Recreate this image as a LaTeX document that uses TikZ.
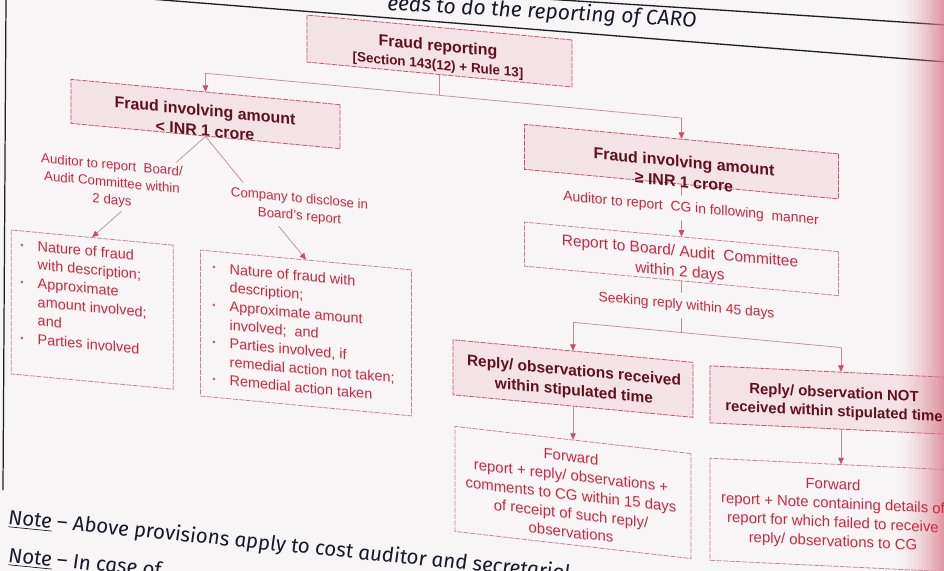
\documentclass[tikz,border=0pt]{standalone}
\usepackage{fontspec}
\setmainfont{Liberation Sans}
\newfontfamily\handfont{Fira Sans}
\usetikzlibrary{arrows.meta}

\definecolor{pagebg}{HTML}{F7F5F5}
\definecolor{headfill}{HTML}{F3E2E6}
\definecolor{headline}{HTML}{C6546C}
\definecolor{boxline}{HTML}{C98494}
\definecolor{connline}{HTML}{BF8C97}
\definecolor{tipred}{HTML}{D2486A}
\definecolor{darkred}{HTML}{62101E}
\definecolor{textred}{HTML}{D02540}
\definecolor{ink}{HTML}{18182A}
\definecolor{edgepink}{HTML}{D97F90}
\definecolor{rulecol}{HTML}{1E1E24}

% font sizes (1 unit of the picture = 0.02cm)
\newcommand\fHead{\fontsize{9.07pt}{11.4pt}\selectfont\bfseries}
\newcommand\fTop{\fontsize{9.07pt}{10.4pt}\selectfont\bfseries}
\newcommand\fSub{\fontsize{7.65pt}{10.4pt}\selectfont\bfseries}
\newcommand\fBody{\fontsize{8.8pt}{11.5pt}\selectfont}
\newcommand\fBold{\fontsize{8.8pt}{11.3pt}\selectfont\bfseries}
\newcommand\fBoldS{\fontsize{8.5pt}{10.6pt}\selectfont\bfseries}
\newcommand\fFwd{\fontsize{8.5pt}{10.8pt}\selectfont}
\newcommand\fList{\fontsize{8.2pt}{10.6pt}\selectfont}
\newcommand\fLbl{\fontsize{7.55pt}{9.9pt}\selectfont}
\newcommand\fLblB{\fontsize{7.9pt}{9.9pt}\selectfont}
\newcommand\fHandTop{\fontsize{12pt}{13pt}\selectfont\handfont\itshape}
\newcommand\fHand{\fontsize{11.7pt}{13pt}\selectfont\handfont\itshape}

% list helpers
\newcommand\bul{\makebox[9.9pt][l]{\raisebox{0.9pt}{\fontsize{5.5pt}{5.5pt}\selectfont\textcolor{textred!75}{•}}}}
\newcommand\cont{\hspace*{9.9pt}}

\begin{document}
\begin{tikzpicture}[x=0.02cm,y=-0.02cm,
  headbox/.style={draw=headline, fill=headfill, line width=0.45pt, dash pattern=on 3pt off 0.7pt, inner sep=0pt},
  plainbox/.style={draw=boxline, line width=0.45pt, dash pattern=on 3pt off 0.7pt, inner sep=0pt},
  headtext/.style={text=darkred, align=center, inner sep=0pt},
  bodytext/.style={text=textred, align=center, inner sep=0pt},
  listtext/.style={text=textred, align=left, inner sep=0pt, anchor=west, font=\fList},
  steplabel/.style={text=textred, align=center, fill=pagebg, inner xsep=1.5pt, inner ysep=2pt},
  conn/.style={draw=connline, line width=0.4pt},
  arr/.style={conn, -{Triangle[length=3.6pt,width=3.2pt,color=tipred]}},
  shearmain/.style={cm={1,-0.094,0,1,(0,0)}, transform shape},
  shearlow/.style={cm={1,-0.115,0,1,(0,0)}, transform shape},
  shearedge/.style={cm={1,-0.048,0,1,(0,0)}, transform shape},
  hand/.style={text=ink, inner sep=0pt, anchor=base west}
]
\useasboundingbox (0,0) rectangle (944,571);
\clip (0,0) rectangle (944,571);
\fill[pagebg] (0,0) rectangle (944,571);

% table rules of the page
\draw[rulecol, line width=0.75pt] plot[smooth] coordinates {(150,-1) (308,11.5) (580,33) (946,62)};
\draw[rulecol, line width=0.75pt] plot[smooth] coordinates {(545,-1) (750,12) (946,25)};
\draw[rulecol, line width=0.7pt] (6,-1) -- (3,490);

\node[hand, font=\fHandTop, yslant=-0.055] (topnote) at (387,10) {eeds to do the reporting of CARO};

% ---------- boxes of the chart ----------
\begin{scope}[shearmain]
  \node[headbox, minimum width=5.30cm, minimum height=0.94cm] (bA) at (439.5,9.7) {};
  \node[headbox, minimum width=5.38cm, minimum height=0.88cm] (bB) at (205.5,94.7) {};
  \node[headbox, minimum width=6.28cm, minimum height=0.90cm] (bC) at (681.5,97.6) {};
  \node[plainbox, minimum width=6.28cm, minimum height=0.88cm] (bD) at (681.5,194.8) {};
  \node[headbox, minimum width=4.80cm, minimum height=1.10cm] (bE) at (573,324.7) {};
  \node[plainbox, minimum width=3.24cm, minimum height=2.88cm] (bI) at (92.3,300.9) {};
  \node[plainbox, minimum width=4.22cm, minimum height=2.92cm] (bJ) at (306,304.2) {};

  \coordinate (jA) at (439.5,54);
  \coordinate (kB) at (205.5,54);
  \coordinate (kC) at (681.5,54);
  \coordinate (jD) at (681.5,268.5);
  \coordinate (kE) at (573,268.5);
  \coordinate (kF) at (841,268.5);
\end{scope}

\begin{scope}[shearlow]
  \node[plainbox, minimum width=4.72cm, minimum height=2.10cm] (bG) at (573,426.6) {};
\end{scope}

\begin{scope}[shearedge]
  \node[headbox, minimum width=5.24cm, minimum height=1.14cm] (bF) at (841,360.3) {};
  \node[plainbox, minimum width=5.24cm, minimum height=2.04cm] (bH) at (841,475.2) {};
\end{scope}

% pink cast along the right edge of the page
\foreach \i in {0,...,24} {
  \pgfmathsetmacro{\op}{0.82*(\i/24)^1.6}
  \fill[edgepink, fill opacity=\op] ({895+2*\i},-1) rectangle ({897.2+2*\i},572);
}

% connectors
\draw[conn] (bA.south) -- (jA);
\draw[conn] (kB) -- (kC);
\draw[arr] (kB) -- (bB.north);
\draw[arr] (kC) -- (bC.north);
\draw[arr] (bB.south) -- (bI.north);
\draw[arr] (bB.south) -- (bJ.north);
\draw[arr] (bC.south) -- (bD.north);
\draw[conn] (bD.south) -- (jD);
\draw[conn] (kE) -- (kF);
\draw[arr] (kE) -- (bE.north);
\draw[arr] (kF) -- (bF.north);
\draw[arr] (bE.south) -- (bG.north);
\draw[arr] (bF.south) -- (bH.north);

% texts
\begin{scope}[shearmain]
  \node[headtext, font=\fTop] (tA) at (438,14.8) {Fraud reporting\\{\fSub [Section 143(12) + Rule 13]}};
  \node[headtext, font=\fHead] (tB) at (205,101.2) {Fraud involving amount\\< INR 1 crore};
  \node[headtext, font=\fHead] (tC) at (684,107.5) {Fraud involving amount\\≥ INR 1 crore};
  \node[bodytext, font=\fBody] (tD) at (680,198.5) {Report to Board/ Audit\ \ Committee\\within 2 days};
  \node[headtext, font=\fBold] (tE) at (574,327.8) {Reply/ observations received\\within stipulated time};

  \node[steplabel, font=\fLblB, inner ysep=3.4pt] (lCG) at (691,144) {Auditor to report\ \ CG in following\ \ manner};
  \node[steplabel, font=\fLblB, inner ysep=3.6pt] (l45) at (686.5,241.5) {Seeking reply within 45 days};
  \node[steplabel, font=\fLbl] (lI) at (112,172.9) {Auditor to report\ \ Board/\\Audit Committee within\\2 days};
  \node[steplabel, font=\fLbl, inner ysep=3pt] (lJ) at (299.5,179.8) {Company to disclose in\\Board’s report};

  \node[listtext] (listI) at (20,289.2) {\bul Nature of fraud\\
    \cont with description;\\
    \bul Approximate\\
    \cont amount involved;\\
    \cont and\\
    \bul Parties involved};
  \node[listtext] (listJ) at (212,303.3) {\bul Nature of fraud with\\
    \cont description;\\
    \bul Approximate amount\\
    \cont involved;\ \ and\\
    \bul Parties involved, if\\
    \cont remedial action not taken;\\
    \bul Remedial action taken};
\end{scope}

\begin{scope}[shearlow]
  \node[bodytext, font=\fFwd] (tG) at (571,428.9) {Forward\\report + reply/ observations +\\comments to CG within 15 days\\of receipt of such reply/\\observations};
\end{scope}

\begin{scope}[shearedge]
  \node[headtext, font=\fBoldS] (tF) at (834,363) {Reply/ observation NOT\\received within stipulated time};
  \node[bodytext, font=\fFwd] (tH) at (833,474) {Forward\\report + Note containing details of\\report for which failed to receive\\reply/ observations to CG};
\end{scope}

% handwritten notes below the chart
\node[hand, font=\fHand, yslant=-0.1] (note1) at (8,524) {\underline{Note} – Above provisions apply to cost auditor and secretarial};
\node[hand, font=\fHand, yslant=-0.1] (note2) at (8,562) {\underline{Note} – In case of};
\end{tikzpicture}
\end{document}
